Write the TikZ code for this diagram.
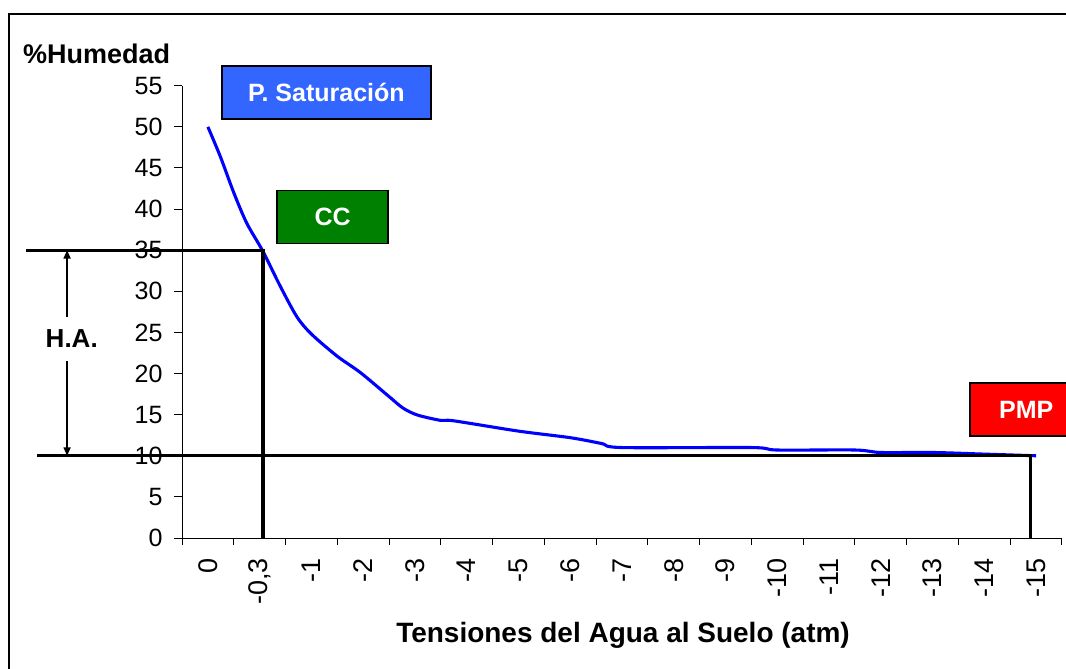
\documentclass[tikz,border=0pt]{standalone}
\usepackage{fontspec}
\setmainfont{Liberation Sans}
\usetikzlibrary{arrows.meta}
\definecolor{satblue}{RGB}{51,102,255}
\definecolor{ccgreen}{RGB}{0,128,0}
\definecolor{pmpred}{RGB}{255,0,0}

\begin{document}
\begin{tikzpicture}
        [x=0.025cm, y=0.025cm,
        axisline/.style={line width=0.7pt},
        refline/.style={line width=2.2pt},
        curve/.style={draw=blue, line width=2.2pt},
        ylab/.style={anchor=east, inner sep=0pt, font=\fontsize{17.8}{20}\selectfont},
        xlab/.style={anchor=east, rotate=90, inner sep=0pt, font=\fontsize{19.2}{22}\selectfont},
        tagbox/.style={draw=black, line width=1.1pt, text=white, inner sep=0pt,
            minimum height=1.32cm, font=\bfseries\fontsize{17.8}{20}\selectfont},
        hatext/.style={fill=white, inner xsep=2pt, inner ysep=0.33cm,
            font=\bfseries\fontsize{18.5}{20}\selectfont},]

        \useasboundingbox (0,0) rectangle (1066,669);
        \draw[line width=1.8pt] (9,-30) |- (1100,655);

        \begin{scope}[shift={(182,131)}, x=1.29375cm, y=0.2055cm]
            \coordinate (o) at (0,0);

            \draw[axisline] (0,55) -- (o) -- (17,0);
            \foreach \h in {0,5,...,55} {
                \draw[axisline] (0,\h) -- ++(-0.2cm,0);
                \node[ylab, xshift=-0.48cm] (y\h) at (0,\h) {\h};
            }
            \foreach \k in {0,...,17}
                \draw[axisline] (\k,0) -- ++(0,-0.18cm);
            \foreach \lab [count=\k from 0] in {0,{-0,3},-1,-2,-3,-4,-5,-6,-7,-8,-9,-10,-11,-12,-13,-14,-15}
                \node[xlab] (x\k) at (\k+0.5,-2.43) {\lab};

            \node[anchor=base, font=\bfseries\fontsize{19.2}{22}\selectfont] (ytitle) at (-1.65,57.75) {\%Humedad};
            \node[anchor=base, font=\bfseries\fontsize{19.9}{22}\selectfont] (xtitle) at (8.52,-12.77) {Tensiones del Agua al Suelo (atm)};

            \draw[curve] plot[smooth, tension=0.5] coordinates {
                (0.5,50) (0.74,46.4) (1.0,42) (1.25,38.3) (1.56,34.9) (1.9,30.6)
                (2.22,26.9) (2.5,24.8) (3.0,22.1) (3.45,20.1) (4.0,17.2) (4.27,15.8)
                (4.55,14.95) (5.0,14.3) (5.25,14.25) (6.5,13.0) (7.5,12.2) (8.1,11.5)
                (8.5,11.0) (11.0,11.0) (11.5,10.7) (13.0,10.7) (13.5,10.4) (14.5,10.4)
                (15.5,10.2) (16.5,10.0)};

            \coordinate (cc) at (1.565,35);
            \coordinate (pmp) at (16.39,10);
            \coordinate (l35) at (-3.01,35);
            \coordinate (l10) at (-2.80,10);
            \draw[refline] (l35) -- (cc) -- (cc |- o);
            \draw[refline] (l10) -- (pmp) -- (pmp |- o);

            \node[hatext] (ha) at (-2.13,24.2) {H.A.};
            \coordinate (hatop) at (-2.22,35);
            \coordinate (habot) at (-2.22,10);
            \draw[line width=1.2pt, -{Triangle[length=6pt, width=5pt]}] (hatop |- ha.north) -- (hatop);
            \draw[line width=1.2pt, -{Triangle[length=6pt, width=5pt]}] (habot |- ha.south) -- (habot);

            \node[tagbox, fill=satblue, minimum width=5.225cm] (sat) at (2.79,54.2) {P. Saturación};
            \node[tagbox, fill=ccgreen, minimum width=2.775cm] (ccbox) at (2.91,39.05) {CC};
            \node[tagbox, fill=pmpred, minimum width=2.8cm] (pmpbox) at (16.31,15.63) {PMP};
        \end{scope}

    \end{tikzpicture}
\end{document}
